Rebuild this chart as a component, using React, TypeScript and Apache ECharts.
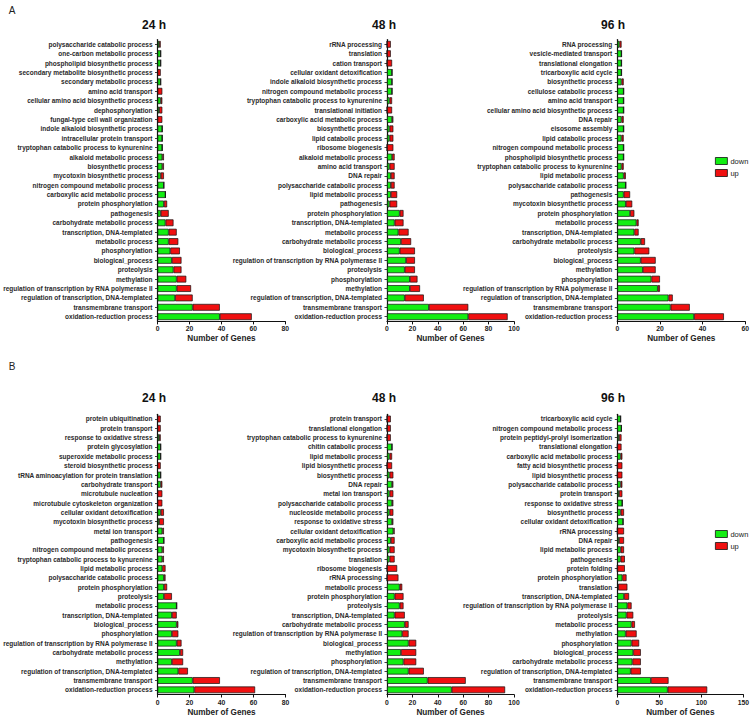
import React, { useEffect, useRef } from "react";
import * as echarts from "echarts";

// ---------- Data (top-to-bottom order as in the figure) ----------
const a24Cats = ["polysaccharide catabolic process","one-carbon metabolic process","phospholipid biosynthetic process","secondary metabolite biosynthetic process","secondary metabolic process","amino acid transport","cellular amino acid biosynthetic process","dephosphorylation","fungal-type cell wall organization","indole alkaloid biosynthetic process","intracellular protein transport","tryptophan catabolic process to kynurenine","alkaloid metabolic process","biosynthetic process","mycotoxin biosynthetic process","nitrogen compound metabolic process","carboxylic acid metabolic process","protein phosphorylation","pathogenesis","carbohydrate metabolic process","transcription, DNA-templated","metabolic process","phosphorylation","biological_process","proteolysis","methylation","regulation of transcription by RNA polymerase II","regulation of transcription, DNA-templated","transmembrane transport","oxidation-reduction process"];
const a24Down = [1,2,2,0,2,0,2,1,0,3,3,3,3,3,2,4,5,4,2,5,7,7,8,9,10,12,12,11,22,39];
const a24Up =   [1,0,0,2,0,3,1,2,3,0,0,0,1,1,2,0,0,2,5,5,5,6,6,6,5,6,9,11,17,20];

const a48Cats = ["rRNA processing","translation","cation transport","cellular oxidant detoxification","indole alkaloid biosynthetic process","nitrogen compound metabolic process","tryptophan catabolic process to kynurenine","translational initiation","carboxylic acid metabolic process","biosynthetic process","lipid catabolic process","ribosome biogenesis","alkaloid metabolic process","amino acid transport","DNA repair","polysaccharide catabolic process","lipid metabolic process","pathogenesis","protein phosphorylation","transcription, DNA-templated","metabolic process","carbohydrate metabolic process","biological_process","regulation of transcription by RNA polymerase II","proteolysis","phosphorylation","methylation","regulation of transcription, DNA-templated","transmembrane transport","oxidation-reduction process"];
const a48Down = [0,0,0,4,4,4,2,0,4,2,2,0,4,2,3,3,3,2,10,6,9,11,10,15,14,18,18,14,33,64];
const a48Up =   [3,3,4,0,0,0,2,4,1,3,3,5,2,4,3,3,5,6,3,7,8,8,12,7,8,6,8,15,31,31];

const a96Cats = ["RNA processing","vesicle-mediated transport","translational elongation","tricarboxylic acid cycle","biosynthetic process","cellulose catabolic process","amino acid transport","cellular amino acid biosynthetic process","DNA repair","eisosome assembly","lipid catabolic process","nitrogen compound metabolic process","phospholipid biosynthetic process","tryptophan catabolic process to kynurenine","lipid metabolic process","polysaccharide catabolic process","pathogenesis","mycotoxin biosynthetic process","protein phosphorylation","metabolic process","transcription, DNA-templated","carbohydrate metabolic process","proteolysis","biological_process","methylation","phosphorylation","regulation of transcription by RNA polymerase II","regulation of transcription, DNA-templated","transmembrane transport","oxidation-reduction process"];
const a96Down = [1,2,2,2,2,3,3,3,2,3,2,3,3,2,3,4,3,4,6,9,8,11,8,11,12,16,19,24,25,36];
const a96Up =   [1,0,0,0,1,0,0,0,1,0,1,0,0,1,1,0,3,3,2,1,2,2,7,7,6,4,1,2,9,14];

const b24Cats = ["protein ubiquitination","protein transport","response to oxidative stress","protein glycosylation","superoxide metabolic process","steroid biosynthetic process","tRNA aminoacylation for protein translation","carbohydrate transport","microtubule nucleation","microtubule cytoskeleton organization","cellular oxidant detoxification","mycotoxin biosynthetic process","metal ion transport","pathogenesis","nitrogen compound metabolic process","tryptophan catabolic process to kynurenine","lipid metabolic process","polysaccharide catabolic process","protein phosphorylation","proteolysis","metabolic process","transcription, DNA-templated","biological_process","phosphorylation","regulation of transcription by RNA polymerase II","carbohydrate metabolic process","methylation","regulation of transcription, DNA-templated","transmembrane transport","oxidation-reduction process"];
const b24Down = [0,0,1,2,2,0,2,2,0,0,2,1,3,4,3,3,3,4,4,4,12,9,12,9,12,14,9,13,22,23];
const b24Up =   [2,2,1,0,0,2,0,1,3,3,2,3,1,0,1,1,2,1,2,5,0,3,1,4,3,2,7,6,17,38];

const b48Cats = ["protein transport","translational elongation","tryptophan catabolic process to kynurenine","chitin catabolic process","lipid metabolic process","lipid biosynthetic process","biosynthetic process","DNA repair","metal ion transport","polysaccharide catabolic process","nucleoside metabolic process","response to oxidative stress","cellular oxidant detoxification","carboxylic acid metabolic process","mycotoxin biosynthetic process","translation","ribosome biogenesis","rRNA processing","metabolic process","protein phosphorylation","proteolysis","transcription, DNA-templated","carbohydrate metabolic process","regulation of transcription by RNA polymerase II","biological_process","methylation","phosphorylation","regulation of transcription, DNA-templated","transmembrane transport","oxidation-reduction process"];
const b48Down = [0,0,0,4,2,0,2,4,2,4,2,4,5,3,2,2,0,0,10,6,10,6,14,12,17,11,13,17,32,51];
const b48Up =   [3,3,3,0,2,4,3,1,3,1,3,1,1,3,4,4,8,9,2,7,3,8,3,5,6,12,10,12,30,42];

const b96Cats = ["tricarboxylic acid cycle","nitrogen compound metabolic process","protein peptidyl-prolyl isomerization","translational elongation","carboxylic acid metabolic process","fatty acid biosynthetic process","lipid biosynthetic process","polysaccharide catabolic process","protein transport","response to oxidative stress","biosynthetic process","cellular oxidant detoxification","rRNA processing","DNA repair","lipid metabolic process","pathogenesis","protein folding","protein phosphorylation","translation","transcription, DNA-templated","regulation of transcription by RNA polymerase II","proteolysis","metabolic process","methylation","phosphorylation","biological_process","carbohydrate metabolic process","regulation of transcription, DNA-templated","transmembrane transport","oxidation-reduction process"];
const b96Down = [4,5,2,0,4,0,0,4,2,6,4,7,0,2,4,4,0,6,1,8,12,11,17,10,17,19,18,16,40,60];
const b96Up =   [0,0,3,5,2,6,6,2,4,0,4,0,8,6,4,5,9,5,11,6,5,8,4,13,9,9,10,12,21,47];

const panelTitles = ["24 h", "48 h", "96 h"];
const sectionLabels = ["A", "B"];
const legendNames = ["down", "up"];
const xAxisName = "Number of Genes";

// ---------- Layout ----------
const FONT = 'Arial, "Liberation Sans", Helvetica, sans-serif';
const GREEN = "#12EE12";
const RED = "#F01010";

const panels = [
  { cats: a24Cats, down: a24Down, up: a24Up, left: 157, width: 128.3, top: 39.6, height: 281.8, max: 80, interval: 20 },
  { cats: a48Cats, down: a48Down, up: a48Up, left: 387, width: 127, top: 39.6, height: 281.8, max: 100, interval: 20 },
  { cats: a96Cats, down: a96Down, up: a96Up, left: 617.3, width: 128.4, top: 39.6, height: 281.8, max: 60, interval: 20 },
  { cats: b24Cats, down: b24Down, up: b24Up, left: 157, width: 128.5, top: 414.3, height: 281.4, max: 80, interval: 20 },
  { cats: b48Cats, down: b48Down, up: b48Up, left: 387, width: 127, top: 414.3, height: 281.4, max: 100, interval: 20 },
  { cats: b96Cats, down: b96Down, up: b96Up, left: 617.3, width: 128.4, top: 414.3, height: 281.4, max: 150, interval: 50 },
];

export default function App() {
  const ref = useRef<HTMLDivElement>(null);
  useEffect(() => {
    if (!ref.current) return;
    const chart = echarts.init(ref.current, null, { renderer: "svg" });

    const grid = panels.map((p) => ({
      left: p.left, top: p.top, width: p.width, height: p.height, containLabel: false,
    }));
    const xAxis = panels.map((p, i) => ({
      type: "value", gridIndex: i, min: 0, max: p.max, interval: p.interval,
      splitLine: { show: false },
      axisLine: { show: true, lineStyle: { color: "#111", width: 1.2 } },
      axisTick: { show: true, length: 3, lineStyle: { color: "#111", width: 1 } },
      axisLabel: { fontSize: 6.8, fontWeight: "bold", color: "#222", margin: 4, fontFamily: FONT },
      name: xAxisName, nameLocation: "middle", nameGap: 17.5,
      nameTextStyle: { fontSize: 8.2, fontWeight: "bold", color: "#222", fontFamily: FONT, verticalAlign: "middle" },
    }));
    const yAxis = panels.map((p, i) => ({
      type: "category", gridIndex: i, data: p.cats, inverse: true,
      axisLine: { show: true, lineStyle: { color: "#111", width: 1.2 } },
      axisTick: { show: true, length: 2.5, alignWithLabel: true, lineStyle: { color: "#111", width: 0.8 } },
      axisLabel: { interval: 0, fontSize: 6.5, fontWeight: "bold", color: "#2a2a2a", margin: 5, fontFamily: FONT },
    }));
    const series: any[] = [];
    panels.forEach((p, i) => {
      series.push({
        type: "bar", name: legendNames[0], stack: "s" + i, xAxisIndex: i, yAxisIndex: i,
        data: p.down, barCategoryGap: "28%",
        itemStyle: { color: GREEN, borderColor: "#111", borderWidth: 0.7 },
      });
      series.push({
        type: "bar", name: legendNames[1], stack: "s" + i, xAxisIndex: i, yAxisIndex: i,
        data: p.up, barCategoryGap: "28%",
        itemStyle: { color: RED, borderColor: "#111", borderWidth: 0.7 },
      });
    });

    const titleX = [154, 384, 613];
    const titleY = [25, 398];
    const graphic: any[] = [];
    titleY.forEach((ty) => {
      panelTitles.forEach((t, j) => {
        graphic.push({
          type: "text", x: titleX[j], y: ty,
          style: { text: t, fontSize: 12, fontWeight: "bold", fontFamily: FONT, fill: "#111", textAlign: "center", textVerticalAlign: "middle" },
        });
      });
    });
    graphic.push({ type: "text", x: 12, y: 10, style: { text: sectionLabels[0], fontSize: 10, fontFamily: FONT, fill: "#222", textAlign: "center", textVerticalAlign: "middle" } });
    graphic.push({ type: "text", x: 12, y: 366, style: { text: sectionLabels[1], fontSize: 10, fontFamily: FONT, fill: "#222", textAlign: "center", textVerticalAlign: "middle" } });

    const legendBase = {
      orient: "vertical", data: legendNames, selectedMode: false,
      itemWidth: 12, itemHeight: 7, itemGap: 4, icon: "rect",
      itemStyle: { borderColor: "#111", borderWidth: 0.8 },
      textStyle: { fontSize: 7.5, color: "#222", fontFamily: FONT, padding: [0, 0, 0, -2] },
      padding: 0,
    };

    chart.setOption({
      animation: false,
      backgroundColor: "#fff",
      grid, xAxis, yAxis, series, graphic,
      legend: [
        { ...legendBase, left: 715, top: 157 },
        { ...legendBase, left: 715, top: 530 },
      ],
    });
    return () => chart.dispose();
  }, []);
  return <div ref={ref} style={{ position: "absolute", left: 0, top: 0, width: 752, height: 717 }} />;
}
